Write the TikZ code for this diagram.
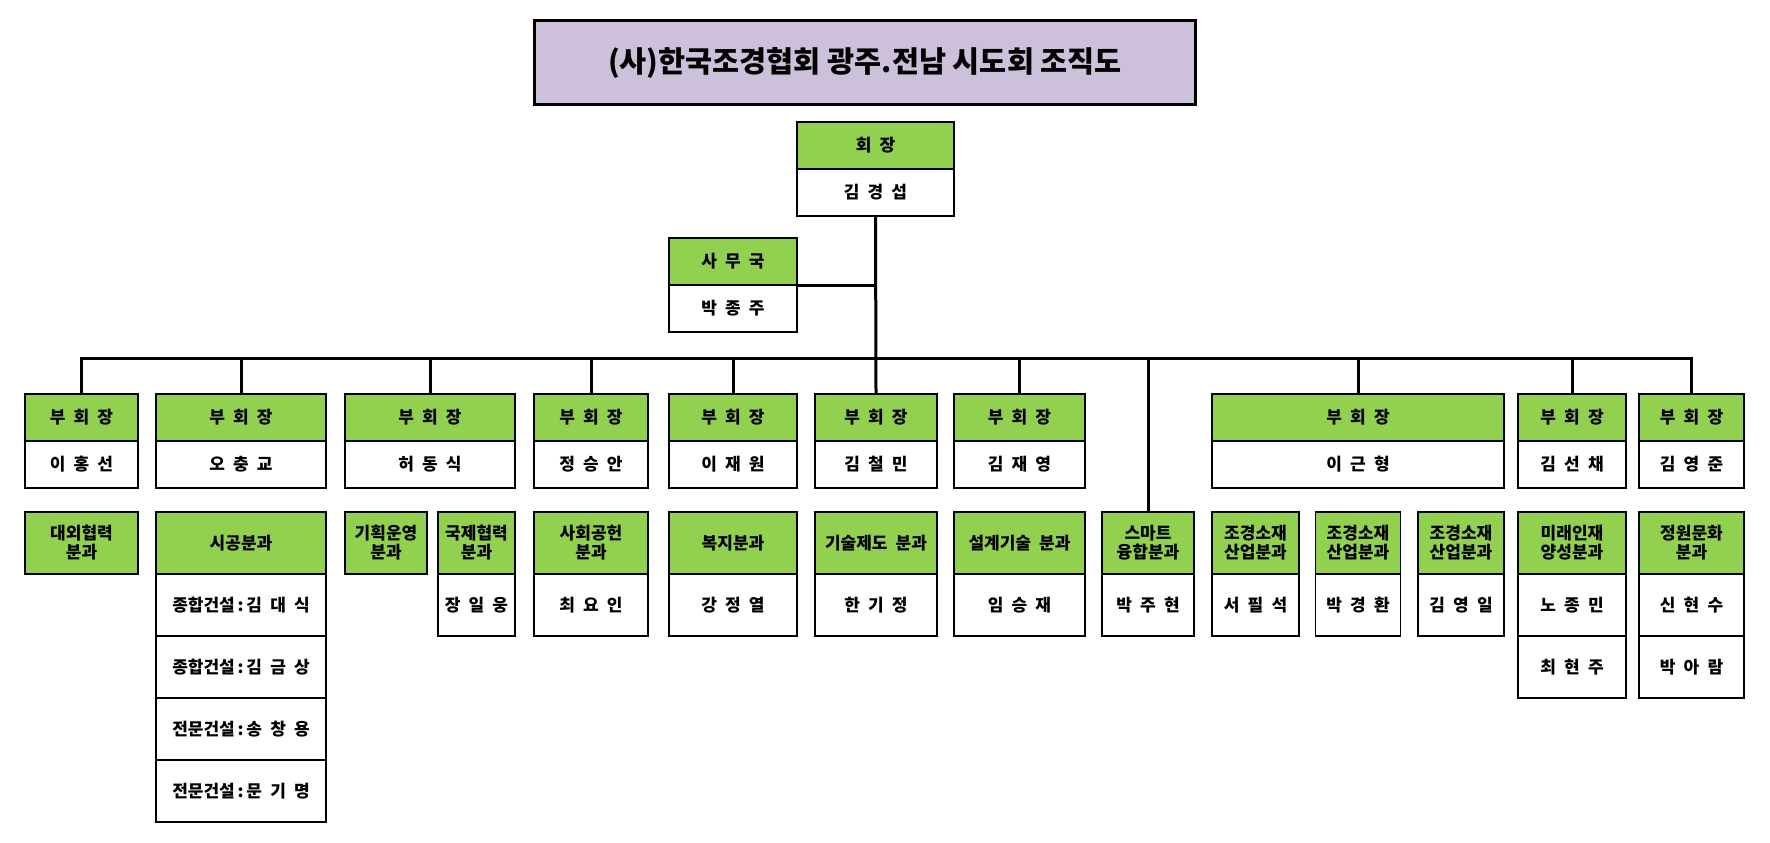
\documentclass[tikz,border=0pt]{standalone}
\usepackage{fontspec}
\setmainfont{Noto Sans CJK KR}
\newfontfamily\boxfont{Noto Sans CJK KR}[WordSpace=2.1]
\usetikzlibrary{positioning}
\definecolor{headgreen}{HTML}{92D050}
\definecolor{titlelilac}{HTML}{CCC0DA}

\tikzset{
  headbox/.style={draw, fill=headgreen, line width=0.6pt, outer sep=0pt,
    inner sep=1pt, minimum height=23.5pt, align=center,
    font=\boxfont\fontsize{8.5}{9.5}\selectfont\bfseries},
  namebox/.style={headbox, fill=white},
  subhead/.style={headbox, minimum height=31pt},
  subname/.style={subhead, fill=white},
  conn/.style={line width=1.5pt}
}

\begin{document}
\begin{tikzpicture}[x=0.5pt, y=-0.5pt]

\path[use as bounding box, fill=white] (0,0) rectangle (1770,842);

% Title
\node[draw,
    fill=titlelilac,
    line width=1.5pt,
    anchor=north west,
    minimum width=330.5pt,
    minimum height=42pt,
    font=\fontsize{14.7}{17}\selectfont\bfseries
] (title) at (533,19) {(사)한국조경협회 광주.전남 시도회 조직도};

% President and office
\node[headbox, minimum width=78.5pt, anchor=north west] (hoejang) at (797,122) {회 장};
\node[namebox, minimum width=78.5pt, below=0pt of hoejang] (hoejangN) {김 경 섭};

\node[headbox, minimum width=64pt, anchor=north west] (samu) at (669,238) {사 무 국};
\node[namebox, minimum width=64pt, below=0pt of samu] (samuN) {박 종 주};

% Vice presidents
\node[headbox, minimum width=56.5pt, anchor=north west] (vp1) at (25,394) {부 회 장};
\node[namebox, minimum width=56.5pt, below=0pt of vp1] (vp1n) {이 홍 선};

\node[headbox, minimum width=85pt, anchor=north west] (vp2) at (156,394) {부 회 장};
\node[namebox, minimum width=85pt, below=0pt of vp2] (vp2n) {오 충 교};

\node[headbox, minimum width=85pt, anchor=north west] (vp3) at (345,394) {부 회 장};
\node[namebox, minimum width=85pt, below=0pt of vp3] (vp3n) {허 동 식};

\node[headbox, minimum width=57pt, anchor=north west] (vp4) at (534,394) {부 회 장};
\node[namebox, minimum width=57pt, below=0pt of vp4] (vp4n) {정 승 안};

\node[headbox, minimum width=64pt, anchor=north west] (vp5) at (669,394) {부 회 장};
\node[namebox, minimum width=64pt, below=0pt of vp5] (vp5n) {이 재 원};

\node[headbox, minimum width=61pt, anchor=north west] (vp6) at (815,394) {부 회 장};
\node[namebox, minimum width=61pt, below=0pt of vp6] (vp6n) {김 철 민};

\node[headbox, minimum width=65.5pt, anchor=north west] (vp7) at (954,394) {부 회 장};
\node[namebox, minimum width=65.5pt, below=0pt of vp7] (vp7n) {김 재 영};

\node[headbox, minimum width=146pt, anchor=north west] (vp8) at (1212,394) {부 회 장};
\node[namebox, minimum width=146pt, below=0pt of vp8] (vp8n) {이 근 형};

\node[headbox, minimum width=54pt, anchor=north west] (vp9) at (1518,394) {부 회 장};
\node[namebox, minimum width=54pt, below=0pt of vp9] (vp9n) {김 선 채};

\node[headbox, minimum width=52.5pt, anchor=north west] (vp10) at (1639,394) {부 회 장};
\node[namebox, minimum width=52.5pt, below=0pt of vp10] (vp10n) {김 영 준};

% Divisions
\node[subhead, minimum width=56.5pt, below=12pt of vp1n] (daeoe) {대외협력\\분과};

\node[subhead, minimum width=85pt, below=12pt of vp2n] (sigong) {시공분과};
\node[subname, minimum width=85pt, below=0pt of sigong] (sigong1) {종합건설\,:\,김 대 식};
\node[subname, minimum width=85pt, below=0pt of sigong1] (sigong2) {종합건설\,:\,김 금 상};
\node[subname, minimum width=85pt, below=0pt of sigong2] (sigong3) {전문건설\,:\,송 창 용};
\node[subname, minimum width=85pt, below=0pt of sigong3] (sigong4) {전문건설\,:\,문 기 명};

\node[subhead, minimum width=41pt, below=12pt of vp3n.south west, anchor=north west] (gihoek) {기획운영\\분과};

\node[subhead, minimum width=38.5pt, below=12pt of vp3n.south east, anchor=north east] (gukje) {국제협력\\분과};
\node[subname, minimum width=38.5pt, below=0pt of gukje] (gukjeN) {장 일 웅};

\node[subhead, minimum width=57pt, below=12pt of vp4n] (sahoe) {사회공헌\\분과};
\node[subname, minimum width=57pt, below=0pt of sahoe] (sahoeN) {최 요 인};

\node[subhead, minimum width=64pt, below=12pt of vp5n] (bokji) {복지분과};
\node[subname, minimum width=64pt, below=0pt of bokji] (bokjiN) {강 정 열};

\node[subhead, minimum width=61pt, below=12pt of vp6n] (gisul) {기술제도 분과};
\node[subname, minimum width=61pt, below=0pt of gisul] (gisulN) {한 기 정};

\node[subhead, minimum width=65.5pt, below=12pt of vp7n] (seolgye) {설계기술 분과};
\node[subname, minimum width=65.5pt, below=0pt of seolgye] (seolgyeN) {임 승 재};

\node[subhead, minimum width=46pt, anchor=north west] (smart) at (1102,512) {스마트\\융합분과};
\node[subname, minimum width=46pt, below=0pt of smart] (smartN) {박 주 현};

\node[subhead, minimum width=43.5pt, below=12pt of vp8n.south west, anchor=north west] (sojae1) {조경소재\\산업분과};
\node[subname, minimum width=43.5pt, below=0pt of sojae1] (sojae1N) {서 필 석};

\node[subhead, minimum width=42.5pt, below=12pt of vp8n] (sojae2) {조경소재\\산업분과};
\node[subname, minimum width=42.5pt, below=0pt of sojae2] (sojae2N) {박 경 환};

\node[subhead, minimum width=43pt, below=12pt of vp8n.south east, anchor=north east] (sojae3) {조경소재\\산업분과};
\node[subname, minimum width=43pt, below=0pt of sojae3] (sojae3N) {김 영 일};

\node[subhead, minimum width=54pt, below=12pt of vp9n] (mirae) {미래인재\\양성분과};
\node[subname, minimum width=54pt, below=0pt of mirae] (miraeN1) {노 종 민};
\node[subname, minimum width=54pt, below=0pt of miraeN1] (miraeN2) {최 현 주};

\node[subhead, minimum width=52.5pt, below=12pt of vp10n] (jeongwon) {정원문화\\분과};
\node[subname, minimum width=52.5pt, below=0pt of jeongwon] (jeongwonN1) {신 현 수};
\node[subname, minimum width=52.5pt, below=0pt of jeongwonN1] (jeongwonN2) {박 아 람};

% Lines
\coordinate (bus) at (0,358);

\draw[conn] (hoejangN.south) -- (vp6.north);
\draw[conn] (samu.south east) -- (samu.south east -| hoejangN.south);
\draw[conn] (vp1.north) |- (bus -| vp10.north) -- (vp10.north);

\draw[conn] (vp2.north |- bus) edge (vp2.north)
            (vp3.north |- bus) edge (vp3.north)
            (vp4.north |- bus) edge (vp4.north)
            (vp5.north |- bus) edge (vp5.north)
            (vp7.north |- bus) edge (vp7.north)
            (smart.north |- bus) edge (smart.north)
            (vp8.north |- bus) edge (vp8.north)
            (vp9.north |- bus) edge (vp9.north);

\end{tikzpicture}
\end{document}
